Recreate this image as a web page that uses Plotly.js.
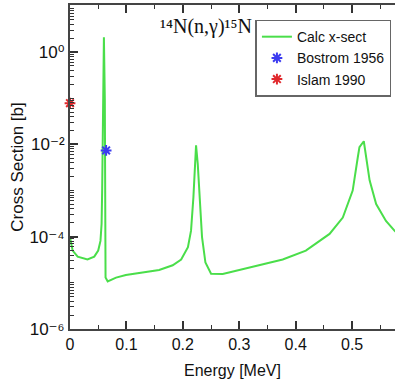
<!DOCTYPE html>
<html>
<head>
<meta charset="utf-8">
<script src="https://cdn.plot.ly/plotly-3.0.1.min.js"></script>
<style>html,body{margin:0;padding:0;background:#fff;}#chart{width:403px;height:379px;}</style>
</head>
<body>
<div id="chart"></div>
<script>
// Calculated cross section
const energy = [0, 0.0047, 0.0136, 0.031, 0.043, 0.05, 0.054, 0.056, 0.057, 0.0585, 0.0601, 0.0617, 0.0625, 0.063, 0.0668, 0.072, 0.0816, 0.099, 0.129, 0.158, 0.182, 0.197, 0.209, 0.2145, 0.2187, 0.2216, 0.2234, 0.2264, 0.2293, 0.234, 0.24, 0.25, 0.2707, 0.318, 0.377, 0.418, 0.46, 0.4835, 0.501, 0.51, 0.513, 0.5207, 0.525, 0.531, 0.5426, 0.56, 0.575, 0.6];
const xsect = [9.8e-5, 5.0e-5, 3.7e-5, 3.2e-5, 3.7e-5, 5.0e-5, 8.1e-5, 1.9e-4, 1.0e-3, 0.1, 2.1, 0.1, 1.0e-3, 1.3e-5, 1.07e-5, 1.15e-5, 1.3e-5, 1.48e-5, 1.66e-5, 1.9e-5, 2.4e-5, 3.2e-5, 5.9e-5, 1.35e-4, 7.1e-4, 3.8e-3, 9.5e-3, 3.8e-3, 7.1e-4, 9.8e-5, 2.75e-5, 1.58e-5, 1.55e-5, 2.14e-5, 3.2e-5, 5.0e-5, 1.15e-4, 2.6e-4, 1.0e-3, 5.2e-3, 8.7e-3, 1.17e-2, 5.2e-3, 1.66e-3, 5.1e-4, 2.2e-4, 1.35e-4, 7.0e-5];
// Experimental points
const bostromE = [0.064];
const bostromS = [0.0074];
const islamE = [0];
const islamS = [0.078];
// Tick labels
const xTickVals = [0, 0.1, 0.2, 0.3, 0.4, 0.5];
const xTickText = ['0', '0.1', '0.2', '0.3', '0.4', '0.5'];
const yTickVals = [1, 1e-2, 1e-4, 1e-6];
const yTickText = ['10⁰', '10⁻²', '10⁻⁴', '10⁻⁶'];

const minorY = [];
for (let d = -6; d <= 1; d++) for (let k = 1; k <= 9; k++) minorY.push(k * Math.pow(10, d));

const font = 'Liberation Sans, Arial, DejaVu Sans, sans-serif';

const traces = [
  {x: energy, y: xsect, mode: 'lines', name: 'Calc x-sect',
   line: {color: '#4ade4a', width: 2}},
  {x: bostromE, y: bostromS, mode: 'markers', name: 'Bostrom 1956',
   marker: {symbol: 'asterisk-open', size: 9, color: '#3b3bf0', line: {color: '#3b3bf0', width: 2}}, cliponaxis: false},
  {x: islamE, y: islamS, mode: 'markers', name: 'Islam 1990',
   marker: {symbol: 'asterisk-open', size: 9, color: '#e0282c', line: {color: '#e0282c', width: 2}}, cliponaxis: false}
];

const layout = {
  width: 403, height: 379,
  margin: {l: 70, r: 8, t: 5, b: 50},
  paper_bgcolor: '#fff', plot_bgcolor: '#fff',
  font: {family: font, color: '#111'},
  showlegend: true,
  title: {text: '¹⁴N(n,γ)¹⁵N', font: {family: 'Liberation Serif, Times New Roman, DejaVu Serif, serif', size: 20, color: '#111'},
          x: 206 / 403, xanchor: 'center', y: 1 - 26 / 379, yanchor: 'middle'},
  legend: {x: 0.989, xanchor: 'right', y: 0.955, yanchor: 'top', bgcolor: '#fff',
           bordercolor: '#666', borderwidth: 1.5, font: {family: font, size: 14, color: '#111'},
           itemwidth: 30, tracegroupgap: 0},
  xaxis: {range: [0, 0.576], tickmode: 'array', tickvals: xTickVals, ticktext: xTickText,
          ticks: 'inside', ticklen: 8, tickwidth: 1.5, tickcolor: '#333',
          showline: true, linecolor: '#444', linewidth: 2, mirror: 'allticks',
          showgrid: false, zeroline: false, tickfont: {size: 16, family: font},
          automargin: false,
          minor: {dtick: 0.05, ticks: 'inside', ticklen: 4, tickcolor: '#333', tickwidth: 1.2},
          title: {text: 'Energy [MeV]', font: {size: 16, family: font}}},
  yaxis: {type: 'log', range: [-6, 1.02], tickmode: 'array', tickvals: yTickVals, ticktext: yTickText,
          ticks: 'inside', ticklen: 8, tickwidth: 1.5, tickcolor: '#333',
          showline: true, linecolor: '#444', linewidth: 2,
          showgrid: false, zeroline: false, tickfont: {size: 17, family: font},
          automargin: false,
          minor: {tickvals: minorY, ticks: 'inside', ticklen: 4, tickcolor: '#333', tickwidth: 1.2},
          title: {text: 'Cross Section [b]', font: {size: 17, family: font}}}
};

Plotly.newPlot('chart', traces, layout, {displayModeBar: false});
</script>
</body>
</html>
